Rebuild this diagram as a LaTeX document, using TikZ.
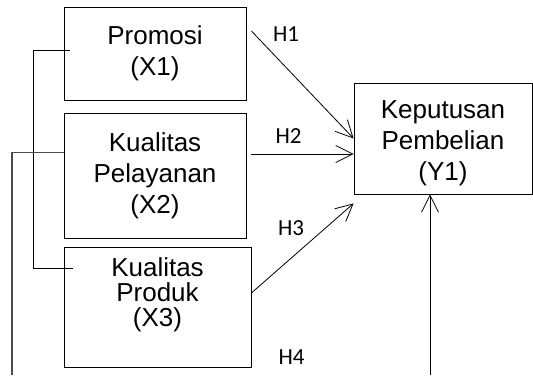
\documentclass[tikz,border=0pt]{standalone}
\usepackage{fontspec}
\setmainfont{Liberation Sans}
\newfontfamily\hypfont{Carlito}
\usetikzlibrary{arrows.meta}
\usetikzlibrary{positioning}

\begin{document}
\begin{tikzpicture}[x=1pt, y=-1pt, line width=.8pt,
    var/.style={draw, align=center, inner sep=0pt, font=\fontsize{26}{31}\selectfont},
    hyp/.style={font=\hypfont\fontsize{23}{27}\selectfont},
    arr/.style={-{Straight Barb[length=17pt, width=17pt]}}]

\useasboundingbox (0,0) rectangle (533,375);

\node[var, minimum width=182pt, minimum height=93pt] at (155, 53.5) (x1) {Promosi\\(X1)};
\node[var, minimum width=182pt, minimum height=125pt] at (155, 175.5) (x2) {Kualitas\\Pelayanan\\(X2)};
\node[var, minimum width=187pt, minimum height=120pt, text depth=29pt,
      font=\fontsize{26}{25}\selectfont] at (157.5, 307) (x3) {Kualitas\\Produk\\(X3)};
\node[var, minimum width=178pt, minimum height=111pt, text height=89pt] at (443, 138.5) (y1) {Keputusan\\Pembelian\\(Y1)};

\node[hyp] at (286, 34) (h1) {H1};
\node[hyp] at (288.5, 136.5) (h2) {H2};
\node[hyp] at (291, 228.5) (h3) {H3};
\node[hyp] at (291.5, 357.5) (h4) {H4};

\draw[arr] ([xshift=5pt, yshift=22.5pt]x1.east) -- (y1.west);
\draw[arr] ([xshift=5pt, yshift=21.5pt]x2.east) -- ([yshift=-15.5pt]y1.west);
\draw[arr] ([yshift=14pt]x3.east) -- ([yshift=-9pt]y1.south west);

% lines running off the bottom edge
\coordinate (x2out) at (12, 375);
\coordinate (y1in) at (430, 375);

\draw ([xshift=6pt, yshift=3.5pt]x1.west) -- ++(-36, 0) |- ([xshift=9pt, yshift=39pt]x3.west);
\draw[black!70, line width=1.3pt] ([yshift=23pt]x2.west) -| (x2out);
\draw[arr] (y1in) -- ([xshift=-13pt]y1.south);

\end{tikzpicture}
\end{document}
